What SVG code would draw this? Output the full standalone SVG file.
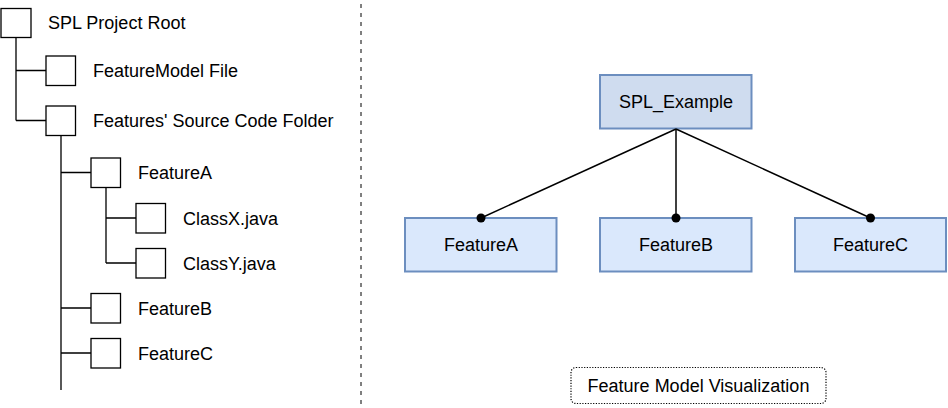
<svg xmlns="http://www.w3.org/2000/svg" width="948" height="408" viewBox="0 0 948 408">
<style>
  text { font-family: "Liberation Sans", Arial, sans-serif; font-size: 18px; fill: #000; }
  .tb { fill: #fff; stroke: #000; stroke-width: 1.3; }
  .tl { fill: none; stroke: #000; stroke-width: 1.3; }
  .fm { fill: #dae8fc; stroke: #6c8ebf; stroke-width: 2; }
  .fmr { fill: #cfdcef; stroke: #6c8ebf; stroke-width: 2; }
  .cn { fill: none; stroke: #000; stroke-width: 1.5; }
  .dot { fill: #000; }
  .mid { text-anchor: middle; }
</style>
<rect width="948" height="408" fill="#fff"/>

<!-- separator -->
<line x1="361" y1="4" x2="361" y2="408" stroke="#000" stroke-width="1" stroke-dasharray="4 5"/>

<!-- tree connectors -->
<g id="tree-connectors">
  <path class="tl" d="M16 37 V120.5 M16 70.5 H46 M16 120.5 H46"/>
  <path class="tl" d="M61 135 V390 M61 172.5 H91 M61 308 H91 M61 353 H91"/>
  <path class="tl" d="M106 187 V263 M106 218 H136 M106 263 H136"/>
</g>

<g id="t-root"><rect class="tb" x="1" y="8.5" width="30" height="29"/><text x="48" y="29">SPL Project Root</text></g>
<g id="t-fmfile"><rect class="tb" x="46" y="56" width="29.5" height="29.5"/><text x="93" y="77">FeatureModel File</text></g>
<g id="t-folder"><rect class="tb" x="46" y="106" width="29.5" height="29.5"/><text x="93" y="127">Features' Source Code Folder</text></g>
<g id="t-featureA"><rect class="tb" x="91" y="158" width="29.5" height="29.5"/><text x="138" y="179">FeatureA</text></g>
<g id="t-classX"><rect class="tb" x="136" y="203.5" width="29.5" height="29.5"/><text x="183" y="225">ClassX.java</text></g>
<g id="t-classY"><rect class="tb" x="136" y="248.5" width="29.5" height="29.5"/><text x="183" y="270">ClassY.java</text></g>
<g id="t-featureB"><rect class="tb" x="91" y="293.5" width="29.5" height="29.5"/><text x="138" y="315">FeatureB</text></g>
<g id="t-featureC"><rect class="tb" x="91" y="338.5" width="29.5" height="29.5"/><text x="138" y="360">FeatureC</text></g>

<g id="fm-root"><rect class="fmr" x="600" y="75" width="151.5" height="53.5"/><text class="mid" x="676" y="108">SPL_Example</text></g>
<g id="fm-featureA"><rect class="fm" x="405" y="218" width="151.5" height="53.5"/><text class="mid" x="481" y="251">FeatureA</text></g>
<g id="fm-featureB"><rect class="fm" x="600" y="218" width="151.5" height="53.5"/><text class="mid" x="676" y="251">FeatureB</text></g>
<g id="fm-featureC"><rect class="fm" x="795" y="218" width="151" height="53.5"/><text class="mid" x="870.5" y="251">FeatureC</text></g>

<!-- feature model connectors -->
<g id="fm-connectors">
  <line class="cn" x1="676" y1="129" x2="481" y2="218"/>
  <line class="cn" x1="676" y1="129" x2="676" y2="218"/>
  <line class="cn" x1="676" y1="129" x2="870.5" y2="218"/>
  <circle class="dot" cx="481" cy="218" r="4.5"/>
  <circle class="dot" cx="676" cy="218" r="4.5"/>
  <circle class="dot" cx="870.5" cy="218" r="4.5"/>
</g>

<g id="caption"><rect x="571" y="367.5" width="255" height="36" rx="5" fill="#fff" stroke="#000" stroke-width="1.2" stroke-dasharray="1.2 1.5"/><text class="mid" x="698.5" y="392">Feature Model Visualization</text></g>
</svg>
